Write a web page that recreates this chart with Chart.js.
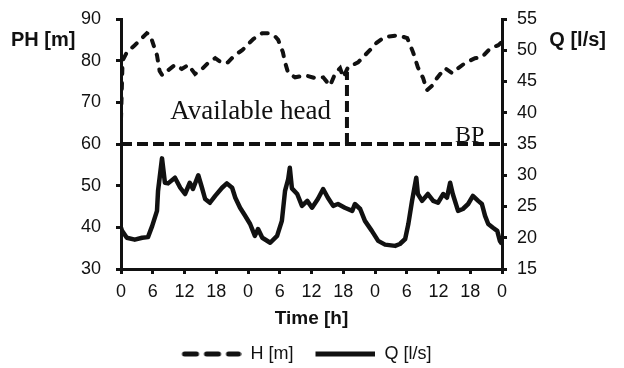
<!DOCTYPE html>
<html>
<head>
<meta charset="utf-8">
<script src="https://cdn.jsdelivr.net/npm/chart.js@4"></script>
<style>
  html, body { margin: 0; padding: 0; background: #fff; }
  #wrap { width: 624px; height: 368px; }
</style>
</head>
<body>
<div id="wrap"><canvas id="headChart" width="624" height="368"></canvas></div>
<script>
// pressure head H [m]
const hTime = [0, 0.3, 1.1, 2.6, 4.9, 5.5, 6.8, 7.3, 7.8, 8.9, 10.2, 11.5, 12.7, 14.0, 15.3, 16.4, 17.8, 19.1, 20.2, 21.5, 22.9,
  24.0, 25.0, 26.7, 27.8, 29.0, 29.7, 30.6, 31.0, 31.6, 32.9, 34.8, 36.7, 38.2, 39.5, 40.5, 41.4, 42.0, 42.9, 44.8, 47.4,
  48.3, 49.9, 52.4, 54.1, 55.2, 56.1, 57.1, 57.8, 58.8, 59.7, 61.2, 62.6, 63.7, 65.0, 66.9, 68.2, 69.8, 71.3, 72.0];
const hHead = [66, 80, 82, 83.7, 86.6, 86.2, 81.3, 77.5, 76.5, 77.7, 79, 78, 79, 76.8, 78, 79.4, 80.6, 79.4, 79.6, 81.3, 82.5,
  83.9, 85.2, 86.6, 86.6, 86, 85, 82, 79.6, 77, 76, 76.5, 75.8, 76, 74, 77, 78.2, 76, 78.4, 79.6, 83,
  84.3, 85.7, 86.1, 85.4, 82, 78.4, 75.8, 72.9, 74, 75.8, 78.2, 77, 78.2, 79.4, 80.6, 80.8, 83, 83.7, 84.5];

// flow Q [l/s]
const qTime = [0, 0.2, 1.1, 2.6, 4.0, 5.1, 5.9, 6.8, 7.0, 7.75, 8.3, 8.9, 10.2, 11.2, 12.1, 13.0, 13.6, 14.6, 15.3, 15.9, 16.8,
  17.8, 19.1, 20.0, 21.0, 21.6, 22.5, 23.4, 24.4, 25.3, 25.9, 26.7, 28.2, 29.5, 30.4, 31.0, 31.6, 31.9, 32.3, 33.3, 34.2,
  35.2, 36.1, 37.2, 38.2, 39.1, 40.1, 41.0, 42.3, 43.7, 44.2, 45.2, 46.1, 47.4, 48.6, 49.9, 51.8, 52.7, 53.7, 54.3, 55.0,
  55.8, 56.1, 56.9, 58.0, 59.0, 59.9, 60.9, 61.6, 62.2, 62.7, 63.7, 64.6, 65.6, 66.5, 67.5, 68.2, 68.8, 69.4, 70.3, 71.1,
  71.6, 72.0];
const qFlow = [21.6, 21.1, 20, 19.7, 20, 20.1, 21.9, 24.3, 27.5, 32.7, 28.8, 28.7, 29.6, 28, 27, 28.8, 27.8, 30, 28, 26.2, 25.6,
  26.7, 28, 28.7, 28, 26.4, 24.8, 23.6, 22.2, 20.3, 21.4, 20, 19.2, 20.3, 22.7, 27.5, 29.4, 31.2, 27.9, 27, 25.1,
  25.9, 24.8, 26.2, 27.8, 26.4, 25.1, 25.4, 24.8, 24.3, 25.4, 24.6, 22.7, 21.1, 19.5, 18.9, 18.7, 19, 19.8, 22.2, 25.9,
  29.6, 27, 25.9, 27, 25.9, 25.6, 27, 26.4, 28.8, 27, 24.3, 24.6, 25.4, 26.7, 25.9, 25.4, 23.5, 22.2, 21.6, 21.1,
  19.5, 19];

// break pressure level and the "available head" marker
const bpLevel = 60;
const markTime = 42.7;
const markTop = 77.3;

const hourTicks = ['0', '6', '12', '18', '0', '6', '12', '18', '0', '6', '12', '18', '0'];

Chart.defaults.font.family = "'Liberation Sans', Arial, sans-serif";
Chart.defaults.color = '#111';

function legendSample(dashed) {
  const c = document.createElement('canvas');
  c.width = 80; c.height = 8;
  const g = c.getContext('2d');
  g.strokeStyle = '#111';
  g.lineWidth = 5;
  g.lineCap = 'round';
  if (dashed) {
    [[23, 35], [45, 57], [67, 77]].forEach(s => {
      g.beginPath(); g.moveTo(s[0], 4); g.lineTo(s[1], 4); g.stroke();
    });
  } else {
    g.lineCap = 'butt';
    g.beginPath(); g.moveTo(20, 4); g.lineTo(80, 4); g.stroke();
  }
  return c;
}
const legendImgs = [legendSample(true), legendSample(false)];

const toPts = (xs, ys) => xs.map((x, i) => ({x: x, y: ys[i]}));

const textPlugin = {
  id: 'labels',
  afterDraw(chart) {
    const ctx = chart.ctx, a = chart.chartArea;
    const x = chart.scales.x, y = chart.scales.y;
    ctx.save();
    ctx.fillStyle = '#111';
    ctx.textBaseline = 'middle';
    ctx.font = "bold 20px 'Liberation Sans', Arial";
    ctx.textAlign = 'left';
    ctx.fillText('PH [m]', a.left - 110, a.top + 21);
    ctx.textAlign = 'right';
    ctx.fillText('Q [l/s]', a.right + 104, a.top + 21);
    ctx.textBaseline = 'alphabetic';
    ctx.font = "27px 'Liberation Serif', 'Times New Roman', serif";
    ctx.textAlign = 'left';
    ctx.fillText('Available head', x.getPixelForValue(9.3), y.getPixelForValue(66.1));
    ctx.font = "24px 'Liberation Serif', 'Times New Roman', serif";
    ctx.fillText('BP', x.getPixelForValue(63.1), y.getPixelForValue(60.4));
    ctx.restore();
  }
};

const axisGrid = {drawOnChartArea: false, color: '#111', lineWidth: 3, tickLength: 5, tickWidth: 3};
const axisBorder = {display: true, color: '#111', width: 3};

function fixWidth(w) {
  return s => { s.width = w; s.paddingTop = 0; s.paddingBottom = 0; };
}

new Chart(document.getElementById('headChart'), {
  type: 'line',
  data: {
    datasets: [
      {
        label: 'H [m]',
        data: toPts(hTime, hHead),
        yAxisID: 'y',
        borderColor: '#111',
        borderWidth: 4,
        borderDash: [6, 9],
        borderCapStyle: 'round',
        pointRadius: 0,
        tension: 0
      },
      {
        label: 'Q [l/s]',
        data: toPts(qTime, qFlow),
        yAxisID: 'q',
        borderColor: '#111',
        borderWidth: 4.5,
        borderJoinStyle: 'round',
        pointRadius: 0,
        tension: 0
      },
      {
        label: 'BP',
        data: [{x: 0, y: bpLevel}, {x: 72, y: bpLevel}],
        yAxisID: 'y',
        borderColor: '#111',
        borderWidth: 4,
        borderDash: [11, 5],
        pointRadius: 0
      },
      {
        label: 'mark',
        data: [{x: markTime, y: bpLevel}, {x: markTime, y: markTop}],
        yAxisID: 'y',
        borderColor: '#111',
        borderWidth: 4,
        borderDash: [11, 5],
        pointRadius: 0
      }
    ]
  },
  options: {
    responsive: false,
    animation: false,
    layout: {padding: {top: 19, left: 0, right: 31, bottom: -5}},
    plugins: {
      tooltip: {enabled: false},
      legend: {
        position: 'bottom',
        labels: {
          usePointStyle: true,
          pointStyleWidth: 80,
          boxHeight: 8,
          padding: 2,
          color: '#111',
          font: {size: 18},
          filter: item => item.datasetIndex < 2,
          generateLabels(chart) {
            const items = Chart.defaults.plugins.legend.labels.generateLabels(chart);
            items.forEach(it => { if (it.datasetIndex < 2) it.pointStyle = legendImgs[it.datasetIndex]; });
            return items;
          }
        }
      }
    },
    scales: {
      x: {
        type: 'linear',
        min: 0,
        max: 72,
        grid: axisGrid,
        border: axisBorder,
        ticks: {
          stepSize: 6,
          padding: 7,
          font: {size: 18},
          color: '#111',
          maxRotation: 0,
          callback: (v, i) => hourTicks[i]
        },
        title: {display: true, text: 'Time [h]', font: {size: 19, weight: 'bold'}, color: '#111', padding: {top: 2, bottom: 13}},
        afterFit(s) { s.height = 74; }
      },
      y: {
        position: 'left',
        min: 30,
        max: 90,
        grid: axisGrid,
        border: axisBorder,
        ticks: {stepSize: 10, padding: 15, font: {size: 18}, color: '#111'},
        afterFit: fixWidth(121)
      },
      q: {
        position: 'right',
        min: 15,
        max: 55,
        grid: axisGrid,
        border: axisBorder,
        ticks: {stepSize: 5, padding: 10, font: {size: 18}, color: '#111'},
        afterFit: fixWidth(91)
      }
    }
  },
  plugins: [textPlugin]
});
</script>
</body>
</html>
